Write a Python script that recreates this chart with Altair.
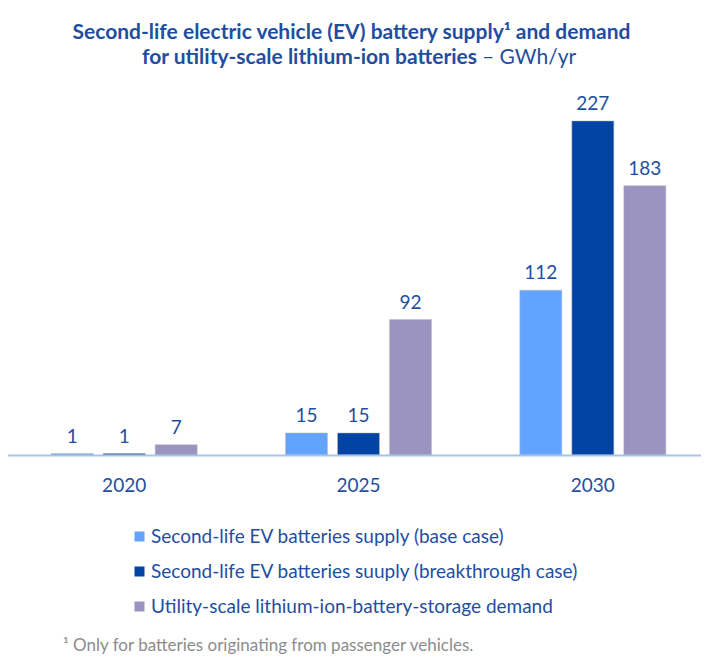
import altair as alt
import pandas as pd

years = ["2020", "2025", "2030"]
series = [
    "Second-life EV batteries supply (base case)",
    "Second-life EV batteries suuply (breakthrough case)",
    "Utility-scale lithium-ion-battery-storage demand",
]
base_case = [1, 15, 112]
breakthrough = [1, 15, 227]
demand = [7, 92, 183]
colors = ["#62A3FF", "#0343A3", "#9B93C0"]

rows = []
for i, y in enumerate(years):
    for s, vals in zip(series, [base_case, breakthrough, demand]):
        rows.append({"year": y, "series": s, "value": vals[i]})
df = pd.DataFrame(rows)

FONT = "Lato"
TXT = "#1F4E9F"

x = alt.X("year:N", sort=years, title=None,
          scale=alt.Scale(range=[-1, 702], paddingInner=0, paddingOuter=0),
          axis=alt.Axis(labelAngle=0, ticks=False, labelFontSize=19, labelColor=TXT,
                        labelFont=FONT, labelPadding=21, domainColor="#A9C2E8",
                        domainWidth=2, grid=False, zindex=1))
xo = alt.XOffset("series:N", sort=series,
                 scale=alt.Scale(paddingInner=0.1923, paddingOuter=0.849))
y = alt.Y("value:Q", scale=alt.Scale(domain=[0, 248]), axis=None)

bars = alt.Chart(df).mark_bar(stroke="#BBBBBB", strokeWidth=0.5).encode(
    x=x, xOffset=xo, y=y,
    color=alt.Color("series:N", sort=series,
                    scale=alt.Scale(domain=series, range=colors),
                    legend=alt.Legend(title=None, orient="none", legendX=122, legendY=437,
                                      symbolType="square", symbolSize=100,
                                      symbolStrokeWidth=0, labelFontSize=19,
                                      labelFont=FONT, labelColor=TXT, rowPadding=15,
                                      labelOffset=2, labelLimit=650)),
)

labels = alt.Chart(df).mark_text(baseline="bottom", dy=-7, fontSize=19, font=FONT,
                                 color=TXT).encode(
    x=x, xOffset=xo, y=y, text="value:Q")

title1 = alt.Chart(pd.DataFrame({"t": ["Second-life electric vehicle (EV) battery supply\u00b9 and demand"]})).mark_text(
    fontSize=21, fontWeight="bold", font=FONT, color=TXT, align="center", baseline="middle"
).encode(x=alt.value(343.5), y=alt.value(-57), text="t:N")

title2a = alt.Chart(pd.DataFrame({"t": ["for utility-scale lithium-ion batteries"]})).mark_text(
    fontSize=21, fontWeight="bold", font=FONT, color=TXT, align="right", baseline="middle"
).encode(x=alt.value(469), y=alt.value(-32), text="t:N")

title2b = alt.Chart(pd.DataFrame({"t": ["\u2013 GWh/yr"]})).mark_text(
    fontSize=21, font=FONT, color=TXT, align="left", baseline="middle"
).encode(x=alt.value(474), y=alt.value(-32), text="t:N")

foot = alt.Chart(pd.DataFrame({"t": ["\u00b9 Only for batteries  originating from passenger vehicles."]})).mark_text(
    fontSize=17, font=FONT, color="#8C8C8C", align="left", baseline="middle"
).encode(x=alt.value(55), y=alt.value(556), text="t:N")

chart = alt.layer(bars, labels, title1, title2a, title2b, foot).properties(
    width=693, height=365,
    autosize=alt.AutoSizeParams(type="none"),
    padding={"top": 82, "left": 0, "right": 0, "bottom": 199},
).configure_view(stroke=None)

chart.save("out.html", embed_options={"renderer": "svg", "actions": False})
